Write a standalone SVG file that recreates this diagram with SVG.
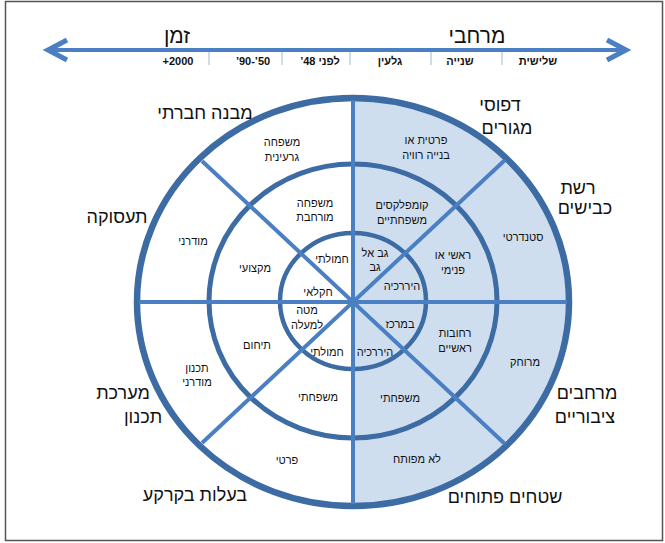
<svg xmlns="http://www.w3.org/2000/svg" width="665" height="543" viewBox="0 0 665 543">
<style>
text{font-family:"Liberation Sans","DejaVu Sans",sans-serif;fill:#111;text-anchor:middle}
.s{font-size:11px}
.b{font-size:11px;font-weight:bold}
.l{font-size:18px}
.h{font-size:21px}
.ring{fill:none;stroke:#3d6ba3}
.spoke{stroke:#4a80c3;stroke-width:4}
.sep{stroke:#9db7d8;stroke-width:1}
</style>
<rect x="5.5" y="1.5" width="657" height="539" fill="#fff" stroke="#555" stroke-width="1.5"/>
<g id="axis">
<line x1="50" y1="50" x2="624" y2="50" stroke="#4a80c3" stroke-width="4"/>
<polyline points="67,40 48,50 67,60" fill="none" stroke="#4a80c3" stroke-width="5"/>
<polyline points="607,40 626,50 607,60" fill="none" stroke="#4a80c3" stroke-width="5"/>
<line class="sep" x1="209" y1="52" x2="209" y2="65"/>
<line class="sep" x1="282" y1="52" x2="282" y2="65"/>
<line class="sep" x1="350" y1="52" x2="350" y2="65"/>
<line class="sep" x1="431" y1="52" x2="431" y2="65"/>
<line class="sep" x1="502" y1="52" x2="502" y2="65"/>
<text class="h" x="177" y="43">זמן</text>
<text class="h" x="477" y="43">מרחבי</text>
<text class="b" x="178" y="65">+2000</text>
<text class="b" x="253" y="65">’90-’50</text>
<text class="b" x="320" y="65">’48 לפני</text>
<text class="b" x="390" y="65">גלעין</text>
<text class="b" x="460" y="65">שנייה</text>
<text class="b" x="538" y="65">שלישית</text>
</g>
<g id="wheel">
<path d="M353,98 A216,204 0 0 1 353,506 Z" fill="#cfdeef"/>
<ellipse class="ring" cx="353" cy="302" rx="216" ry="204" stroke-width="6.5"/>
<ellipse class="ring" cx="353" cy="301" rx="144" ry="137" stroke-width="5"/>
<ellipse class="ring" cx="353" cy="301" rx="73" ry="68" stroke-width="4.5"/>
</g>
<g id="connectors">
<line class="spoke" x1="353" y1="100" x2="353" y2="504"/>
<line class="spoke" x1="139" y1="302" x2="567" y2="302"/>
<line class="spoke" x1="202" y1="161" x2="505" y2="444"/>
<line class="spoke" x1="505" y1="160" x2="202" y2="443"/>
</g>
<g id="housing">
<text class="l" x="500" y="111">דפוסי</text>
<text class="l" x="507" y="134">מגורים</text>
<text class="s" x="426" y="144">פרטית או</text>
<text class="s" x="426" y="159">בנייה רוויה</text>
<text class="s" x="402" y="209">קומפלקסים</text>
<text class="s" x="402" y="224">משפחתיים</text>
<text class="s" x="375" y="257">גב אל</text>
<text class="s" x="375" y="271">גב</text>
</g>
<g id="roads">
<text class="l" x="578" y="194">רשת</text>
<text class="l" x="585" y="214">כבישים</text>
<text class="s" x="523" y="241">סטנדרטי</text>
<text class="s" x="453" y="259">ראשי או</text>
<text class="s" x="453" y="274">פנימי</text>
<text class="s" x="402" y="290">היררכיה</text>
</g>
<g id="public-spaces">
<text class="l" x="587" y="399">מרחבים</text>
<text class="l" x="585" y="423">ציבוריים</text>
<text class="s" x="525" y="366">מרוחק</text>
<text class="s" x="455" y="337">רחובות</text>
<text class="s" x="455" y="352">ראשיים</text>
<text class="s" x="400" y="328">במרכז</text>
</g>
<g id="open-spaces">
<text class="l" x="505" y="503">שטחים פתוחים</text>
<text class="s" x="417" y="463">לא מפותח</text>
<text class="s" x="400" y="402">משפחתי</text>
<text class="s" x="375" y="356">היררכיה</text>
</g>
<g id="land-ownership">
<text class="l" x="195" y="501">בעלות בקרקע</text>
<text class="s" x="287" y="464">פרטי</text>
<text class="s" x="318" y="401">משפחתי</text>
<text class="s" x="327" y="356">חמולתי</text>
</g>
<g id="planning">
<text class="l" x="123" y="399">מערכת</text>
<text class="l" x="143" y="423">תכנון</text>
<text class="s" x="197" y="372">תכנון</text>
<text class="s" x="197" y="386">מודרני</text>
<text class="s" x="257" y="349">תיחום</text>
<text class="s" x="307" y="314">מטה</text>
<text class="s" x="307" y="329">למעלה</text>
</g>
<g id="employment">
<text class="l" x="117" y="223">תעסוקה</text>
<text class="s" x="193" y="245">מודרני</text>
<text class="s" x="255" y="272">מקצועי</text>
<text class="s" x="318" y="296">חקלאי</text>
</g>
<g id="social-structure">
<text class="l" x="205" y="119">מבנה חברתי</text>
<text class="s" x="282" y="146">משפחה</text>
<text class="s" x="282" y="161">גרעינית</text>
<text class="s" x="315" y="207">משפחה</text>
<text class="s" x="315" y="221">מורחבת</text>
<text class="s" x="332" y="263">חמולתי</text>
</g>
</svg>
